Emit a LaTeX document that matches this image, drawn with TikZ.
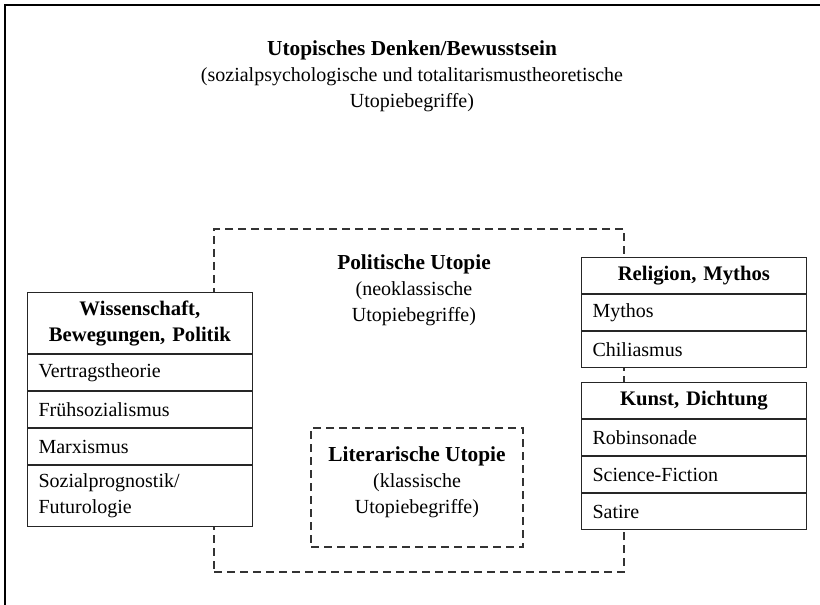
\documentclass[tikz,border=0pt]{standalone}
\usepackage{fontspec}
\setmainfont{Liberation Serif}
\usetikzlibrary{positioning}

\begin{document}
\begin{tikzpicture}[x=0.75pt, y=-0.75pt,
    every node/.style={font=\fontsize{15}{19.5}\selectfont},
    cellbox/.style={draw=black!85, line width=0.8pt, fill=white, text width=152pt,
        inner xsep=8.25pt, inner ysep=6pt, minimum height=27pt, align=left},
    headbox/.style={cellbox, font=\fontsize{15.5}{19.5}\selectfont\bfseries, align=center},
    dashbox/.style={draw=black!80, line width=0.8pt, dash pattern=on 6pt off 3.75pt}]
    \useasboundingbox (0,0) rectangle (820,605);
    \draw[line width=1pt] (5,605) -- (5,5) -- (820,5);

    % outer level
    \node[align=center] (denken) at (412,76) {\textbf{\fontsize{16}{19.5}\selectfont Utopisches Denken/Bewusstsein}\\
        (sozialpsychologische und totalitarismustheoretische\\Utopiebegriffe)};

    % political and literary utopia
    \node[dashbox, minimum width=307.5pt, minimum height=257.25pt] (politik) at (419,400.5) {};
    \node[align=center] (politiklabel) at (414,290) {\textbf{\fontsize{16}{19.5}\selectfont Politische Utopie}\\
        (neoklassische\\Utopiebegriffe)};
    \node[dashbox, minimum width=159pt, minimum height=89.25pt] (literatur) at (417,487.5) {};
    \node[align=center] (literaturlabel) at (417,482) {\textbf{\fontsize{16}{19.5}\selectfont Literarische Utopie}\\
        (klassische\\Utopiebegriffe)};

    % left column
    \node[headbox, anchor=north west] (wissenschaft) at (27,292) {Wissenschaft,\\Bewegungen, Politik};
    \node[cellbox, below=0pt of wissenschaft] (vertrag) {Vertragstheorie};
    \node[cellbox, below=0pt of vertrag] (fruehsoz) {Frühsozialismus};
    \node[cellbox, below=0pt of fruehsoz] (marxismus) {Marxismus};
    \node[cellbox, below=0pt of marxismus] (prognostik) {Sozialprognostik/\\Futurologie};

    % right column
    \node[headbox, anchor=north west] (religion) at (581,257) {Religion, Mythos};
    \node[cellbox, below=0pt of religion] (mythos) {Mythos};
    \node[cellbox, below=0pt of mythos] (chiliasmus) {Chiliasmus};
    \node[headbox, anchor=north west] (kunst) at (581,382) {Kunst, Dichtung};
    \node[cellbox, below=0pt of kunst] (robinsonade) {Robinsonade};
    \node[cellbox, below=0pt of robinsonade] (scifi) {Science-Fiction};
    \node[cellbox, below=0pt of scifi] (satire) {Satire};
\end{tikzpicture}
\end{document}
